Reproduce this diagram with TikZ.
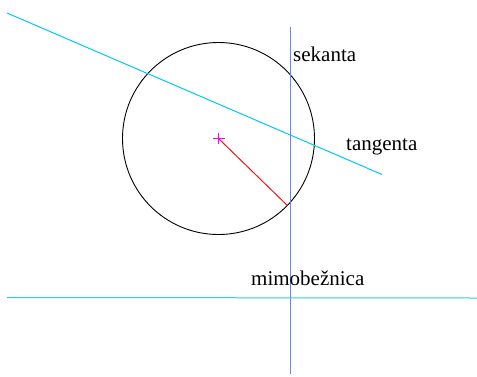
\documentclass[tikz,border=0pt]{standalone}
\usepackage{fontspec}
\setmainfont{Liberation Serif}
\usetikzlibrary{calc}
\definecolor{tangcol}{RGB}{0,200,245}
\definecolor{mimocol}{RGB}{50,205,210}
\definecolor{sekcol}{RGB}{100,135,250}
\definecolor{radcol}{RGB}{245,20,20}
\definecolor{cencol}{RGB}{255,0,255}
\tikzset{
  lbl/.style={inner sep=0pt, anchor=base west, font=\fontsize{21}{25}\selectfont},
  ln/.style={line width=1pt}
}
\begin{document}
\begin{tikzpicture}[x=1pt,y=-1pt]
\useasboundingbox (0,0) rectangle (477,376);
% circle
\coordinate (c) at (218.5,138.5);
\draw[line width=0.9pt, black] (c) circle[radius=96];
% radius
\coordinate (p) at ($(c)+(44.2:96)$);
\draw[ln, radcol] (c) -- (p);
% center mark
\coordinate (cl) at (212.5,138.5);
\coordinate (cr) at (224.5,138.5);
\coordinate (ct) at (218.5,133);
\coordinate (cb) at (218.5,144);
\draw[line width=1pt, cencol] (cl) -- (cr) (ct) -- (cb);
% tangenta line
\coordinate (t1) at (7,13);
\coordinate (t2) at (382,174.5);
\draw[ln, tangcol] (t1) -- (t2);
% sekanta line
\coordinate (s1) at (290.5,27);
\coordinate (s2) at (290.5,374);
\draw[ln, sekcol] (s1) -- (s2);
% mimobeznica line
\coordinate (m1) at (7,297.5);
\coordinate (m2) at (477,298);
\draw[ln, mimocol] (m1) -- (m2);
% labels
\node[lbl] (sek) at (293,61) {sekanta};
\node[lbl] (tan) at (346,150) {tangenta};
\node[lbl] (mim) at (251,285) {mimobežnica};
\end{tikzpicture}
\end{document}
